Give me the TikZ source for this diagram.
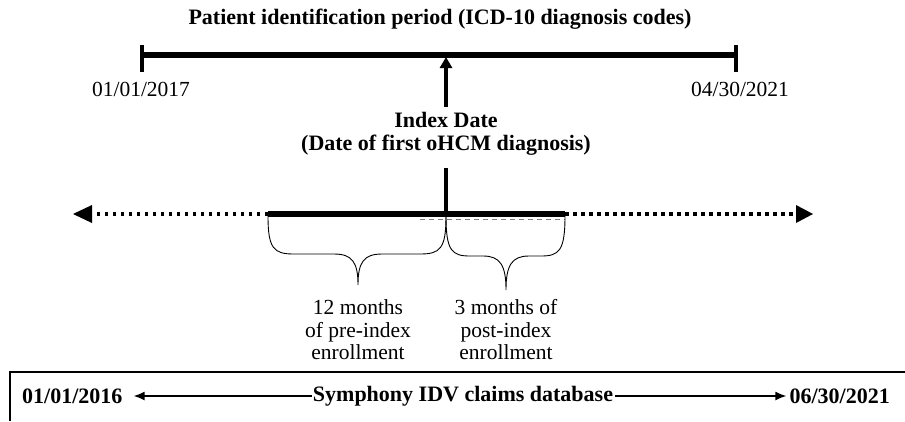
\documentclass[tikz,border=0pt]{standalone}
\usepackage{fontspec}
\setmainfont{Liberation Serif}
\usetikzlibrary{arrows.meta}
\begin{document}
\begin{tikzpicture}[x=1pt,y=-1pt,
  lbl/.style={inner sep=0pt,align=center,font=\fontsize{21.5}{22.5}\selectfont},
  blbl/.style={lbl,font=\fontsize{22}{23}\selectfont\bfseries},
  thickbar/.style={line width=6.5pt},
  tick/.style={line width=3.5pt},
  dotline/.style={line width=4pt,dash pattern=on 3.5pt off 4.5pt},
  brace/.style={line width=0.9pt},
  boxline/.style={line width=2.5pt},
  smallarrow/.style={line width=1.6pt,-{Latex[length=11pt,width=9pt]}}]
\useasboundingbox (0,0) rectangle (905,421);
% title
\node[blbl] (title) at (440,19) {Patient identification period (ICD-10 diagnosis codes)};
% top bar
\coordinate (t1) at (142,55);
\coordinate (t2) at (736,55);
\draw[thickbar] (t1) -- (t2);
\draw[tick] (142,45) -- (142,72);
\draw[tick] (736,45) -- (736,72);
\node[lbl] (d2017) at (141,89) {01/01/2017};
\node[lbl] (d2021a) at (740,89) {04/30/2021};
% index
\node[blbl] (index) at (446,134) {Index Date\\(Date of first oHCM diagnosis)};
\coordinate (idxtop) at (446,57);
\coordinate (idxlow) at (446,107);
\draw[line width=3.5pt,-{Triangle[length=11pt,width=12pt]}] (idxlow) -- (idxtop);
\coordinate (m0) at (446,168);
\coordinate (mi) at (446,212);
\draw[line width=3.5pt] (m0) -- (mi);
% middle timeline
\coordinate (ms) at (268,214);
\coordinate (me) at (565,214);
\coordinate (ml) at (73,214);
\coordinate (mr) at (813,214);
\draw[gray,line width=1pt,dash pattern=on 5pt off 4pt] (420,219) -- (565,219);
\draw[thickbar] (ms) -- (me);
\draw[dotline] (ms) -- (92,214);
\draw[dotline] (me) -- (796,214);
\fill (ml) -- (92,205) -- (92,223) -- cycle;
\fill (mr) -- (796,205) -- (796,223) -- cycle;
% braces
\draw[brace] (268,216) .. controls (268,249) and (274,254) .. (294,254) -- (334,254)
  .. controls (352,254) and (358,262) .. (358,285)
  .. controls (358,262) and (364,254) .. (382,254) -- (420,254)
  .. controls (440,254) and (446,249) .. (446,216);
\draw[brace] (446,216) .. controls (446,251) and (452,256) .. (470,256) -- (483,256)
  .. controls (500,256) and (506,265) .. (506,290)
  .. controls (506,265) and (512,256) .. (529,256) -- (541,256)
  .. controls (559,256) and (565,251) .. (565,216);
\node[lbl] (pre) at (358,330) {12 months\\of pre-index\\enrollment};
\node[lbl] (post) at (506,330) {3 months of\\post-index\\enrollment};
% bottom box
\draw[boxline] (10,421) -- (10,372) -- (906,372);
\node[blbl,anchor=west] (b2016) at (22,396) {01/01/2016};
\node[blbl] (sym) at (463,396) {Symphony IDV claims database};
\node[blbl,anchor=east] (b2021) at (890,396) {06/30/2021};
\draw[smallarrow,shorten <=1pt,shorten >=11pt] (sym.west) -- (b2016.east);
\draw[smallarrow,shorten <=2pt,shorten >=3pt] (sym.east) -- (b2021.west);
\end{tikzpicture}
\end{document}
